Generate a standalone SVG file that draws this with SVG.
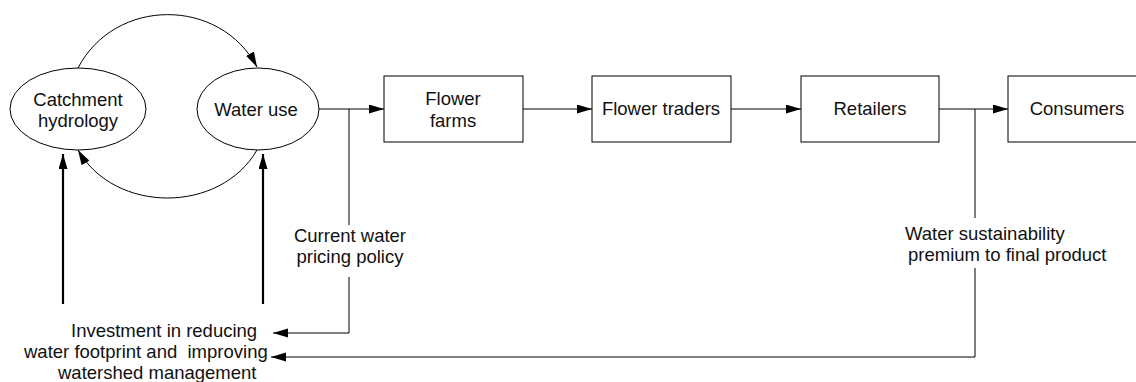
<svg xmlns="http://www.w3.org/2000/svg" width="1136" height="382" viewBox="0 0 1136 382">
<style>
.n{fill:#fff;stroke:#000;stroke-width:1}
.t{font-family:"Liberation Sans",Arial,sans-serif;font-size:18.5px;fill:#111;white-space:pre}
.c{text-anchor:middle}
.l{fill:none;stroke:#000;stroke-width:1}
.th{fill:none;stroke:#000;stroke-width:2.2}
</style>
<defs>
<marker id="a" markerUnits="userSpaceOnUse" markerWidth="16" markerHeight="10" refX="15" refY="4.5" orient="auto"><path d="M0,0 L15,4.5 L0,9 z" fill="#000"/></marker>
</defs>
<rect width="1136" height="382" fill="#fff"/>
<g id="connectors">
<path class="l" d="M78,68 C115,-3 220,-3 257,67" marker-end="url(#a)"/>
<path class="l" d="M257,150 C220,214 115,214 78,150" marker-end="url(#a)"/>
<path class="th" d="M63,304 V154" marker-end="url(#a)"/>
<path class="th" d="M263,304 V154" marker-end="url(#a)"/>
<path class="l" d="M319,109 H384" marker-end="url(#a)"/>
<path class="l" d="M349,109 V225"/>
<path class="l" d="M349,277 V333 H273" marker-end="url(#a)"/>
<path class="l" d="M523,109 H592" marker-end="url(#a)"/>
<path class="l" d="M731,109 H801" marker-end="url(#a)"/>
<path class="l" d="M939,109 H1008" marker-end="url(#a)"/>
<path class="l" d="M975,109 V218"/>
<path class="l" d="M975,268 V357 H271" marker-end="url(#a)"/>
</g>
<g id="catchment">
<ellipse class="n" cx="78" cy="109" rx="68" ry="41"/>
<text class="t c" x="78" y="106">Catchment</text>
<text class="t c" x="78" y="127">hydrology</text>
</g>
<g id="wateruse">
<ellipse class="n" cx="258" cy="109" rx="61" ry="41"/>
<text class="t c" x="256" y="116">Water use</text>
</g>
<g id="farms">
<rect class="n" x="384" y="76" width="139" height="66"/>
<text class="t c" x="453" y="105">Flower</text>
<text class="t c" x="453" y="127">farms</text>
</g>
<g id="traders">
<rect class="n" x="592" y="76" width="139" height="66"/>
<text class="t c" x="661" y="115">Flower traders</text>
</g>
<g id="retailers">
<rect class="n" x="801" y="76" width="138" height="66"/>
<text class="t c" x="870" y="115">Retailers</text>
</g>
<g id="consumers">
<rect class="n" x="1008" y="76" width="139" height="66"/>
<text class="t c" x="1077" y="115">Consumers</text>
</g>
<g id="pricing">
<text class="t c" x="350" y="242">Current water</text>
<text class="t c" x="350" y="263">pricing policy</text>
</g>
<g id="premium">
<text class="t" x="905" y="240">Water sustainability</text>
<text class="t" x="908" y="261">premium to final product</text>
</g>
<g id="investment">
<text class="t" x="71" y="337">Investment in reducing</text>
<text class="t" x="24" y="358">water footprint and  improving</text>
<text class="t" x="58" y="379">watershed management</text>
</g>
</svg>
